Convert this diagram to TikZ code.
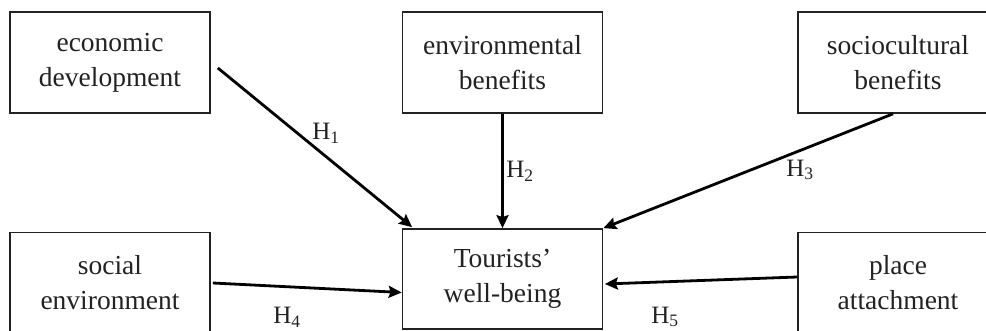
\documentclass[tikz,border=0pt]{standalone}
\usepackage{fontspec}
\setmainfont{Liberation Serif}
\usetikzlibrary{arrows.meta}
\definecolor{ink}{HTML}{222222}
\begin{document}
\begin{tikzpicture}[x=1pt,y=-1pt,
  box/.style={draw=ink, line width=1.7pt, minimum width=200pt, minimum height=101pt, inner sep=0pt, align=center, text=ink, font=\fontsize{27.5}{35}\selectfont},
  hyp/.style={line width=2.8pt, draw=black, -{Stealth[length=13pt,width=12pt,inset=2pt]}},
  lab/.style={text=ink, font=\fontsize{25}{28}\selectfont, inner sep=0pt}]
\useasboundingbox (0,0) rectangle (986,331);
\clip (0,0) rectangle (986,331);
\node[box] (eco) at (110,62.5) {economic\\development};
\node[box] (env) at (502.5,62.5) {environmental\\benefits};
\node[box] (soc) at (898,62.5) {sociocultural\\benefits};
\node[box] (sen) at (110,283) {social\\environment};
\node[box, minimum height=100pt] (tw) at (502.5,279) {Tourists’\\well-being};
\node[box] (pla) at (898,283) {place\\attachment};
\draw[hyp] ([xshift=7pt,yshift=-5.5pt]eco.east) -- ([xshift=10.5pt,yshift=1pt]tw.north west);
\draw[hyp] (env.south) -- (tw.north);
\draw[hyp] ([xshift=-5pt]soc.south) -- (tw.north east);
\draw[hyp] ([xshift=2pt]sen.east) -- ([yshift=-13.5pt]tw.west);
\draw[hyp] ([yshift=6pt]pla.west) -- ([xshift=1.5pt,yshift=-5pt]tw.east);
\node[lab] (h1) at (326,133) {H\textsubscript{1}};
\node[lab] (h2) at (520,171) {H\textsubscript{2}};
\node[lab] (h3) at (800,170) {H\textsubscript{3}};
\node[lab] (h4) at (287,317) {H\textsubscript{4}};
\node[lab] (h5) at (665,317) {H\textsubscript{5}};
\end{tikzpicture}
\end{document}
